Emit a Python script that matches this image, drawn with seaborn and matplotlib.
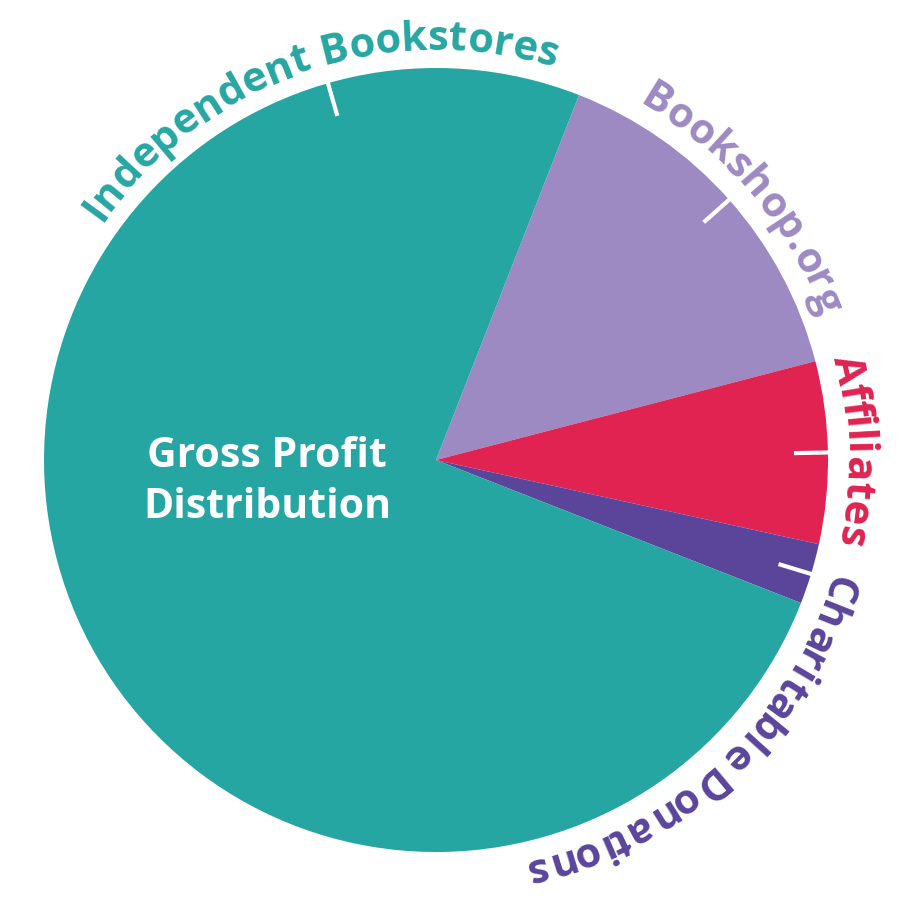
import numpy as np
import matplotlib
matplotlib.use("Agg")
import matplotlib.pyplot as plt
import seaborn as sns
from matplotlib.font_manager import FontProperties

# ---- data ----
categories = ["Bookshop.org", "Affiliates", "Charitable Donations", "Independent Bookstores"]
shares = [15, 7.5, 2.5, 75]
colors_hex = ["#9E8AC2", "#E02350", "#5A459B", "#26A6A2"]
center_title = ["Gross Profit", "Distribution"]

# ---- style ----
sns.set_theme(style="white")
plt.rcParams['font.family'] = ['Open Sans', 'DejaVu Sans']
palette = sns.color_palette(colors_hex)

fig = plt.figure(figsize=(9, 9), dpi=100)
ax = fig.add_axes([0, 0, 1, 1])
CX, CY, R = 436, 440, 392
START = 68.6

wedges, _ = ax.pie(shares, colors=palette, startangle=START, counterclock=False,
                   center=(CX, CY), radius=R, wedgeprops=dict(linewidth=0))
ax.set_xlim(0, 900)
ax.set_ylim(0, 900)
ax.set_aspect('equal')
ax.axis('off')

fig.canvas.draw()
renderer = fig.canvas.get_renderer()
fp = FontProperties(family='Open Sans', weight='bold', size=30)


def text_w(t):
    if not t:
        return 0.0
    w, h, d = renderer.get_text_width_height_descent(t, fp, ismath=False)
    return w


def curved_text(s, r, anchor, align, color):
    total = text_w(s)
    if align == 'center':
        a0 = anchor + np.degrees(total / 2 / r)
    else:
        a0 = anchor
    for i, ch in enumerate(s):
        if ch == ' ':
            continue
        mid = text_w(s[:i + 1]) - text_w(ch) / 2
        a = a0 - np.degrees(mid / r)
        ar = np.radians(a)
        ax.text(CX + r * np.cos(ar), CY + r * np.sin(ar), ch, rotation=a - 90,
                rotation_mode='anchor', ha='center', va='baseline',
                fontproperties=fp, color=color)


# label placement (angles in degrees)
label_angle_override = {"Independent Bookstores": 109.0, "Bookshop.org": 40.5,
                        "Affiliates": 1.3, "Charitable Donations": -16.0}
tick_angle_override = {"Independent Bookstores": 106.0}
label_align = {"Charitable Donations": 'left'}

for w, cat, col in zip(wedges, categories, palette):
    mid = (w.theta1 + w.theta2) / 2
    ta = np.radians(tick_angle_override.get(cat, mid))
    ax.plot([CX + 358 * np.cos(ta), CX + 393 * np.cos(ta)],
            [CY + 358 * np.sin(ta), CY + 393 * np.sin(ta)],
            color='white', lw=3, solid_capstyle='butt')
    curved_text(cat, 410, label_angle_override.get(cat, mid),
                label_align.get(cat, 'center'), col)

cfp = FontProperties(family='Open Sans', weight='bold', size=29.5)
ax.text(267, 900 - 467, center_title[0], ha='center', va='baseline', color='white', fontproperties=cfp)
ax.text(267, 900 - 518, center_title[1], ha='center', va='baseline', color='white', fontproperties=cfp)

fig.savefig("out.png", dpi=100, facecolor='white')
